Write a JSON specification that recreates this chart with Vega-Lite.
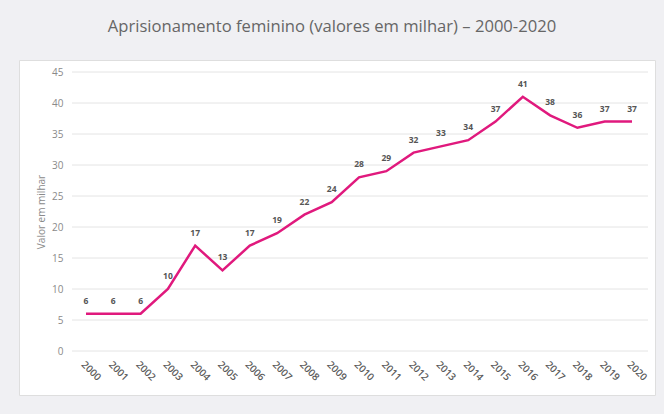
{
  "$schema": "https://vega.github.io/schema/vega-lite/v6.json",
  "width": 636,
  "height": 335,
  "autosize": {"type": "none"},
  "padding": {"left": 19, "top": 60, "right": 9, "bottom": 19},
  "background": "#f0f0f3",
  "config": {
    "font": "Open Sans",
    "view": {"fill": "white", "stroke": "#dedede", "strokeWidth": 1}
  },
  "title": {
    "text": "Aprisionamento feminino (valores em milhar) – 2000-2020",
    "anchor": "middle",
    "fontSize": 16.6,
    "fontWeight": "normal",
    "color": "#666666",
    "offset": 24,
    "dx": -5
  },
  "resolve": {"scale": {"x": "independent"}, "axis": {"x": "independent"}},
  "layer": [
    {
      "data": {"values": [{"g": 0}, {"g": 5}, {"g": 10}, {"g": 15}, {"g": 20}, {"g": 25}, {"g": 30}, {"g": 35}, {"g": 40}, {"g": 45}]},
      "mark": {"type": "rule", "color": "#e4e4e4", "strokeWidth": 1},
      "encoding": {
        "y": {
          "field": "g", "type": "quantitative",
          "scale": {"domain": [0, 45], "range": [291, 12], "nice": false, "zero": true},
          "axis": {
            "title": "Valor em milhar", "titleFontSize": 10, "titleFontWeight": "normal",
            "titleColor": "#8a8a8a", "titlePadding": 5,
            "offset": -53, "domain": false, "ticks": false, "grid": false,
            "values": [0, 5, 10, 15, 20, 25, 30, 35, 40, 45], "labelOverlap": false,
            "labelPadding": 9, "labelFontSize": 10, "labelColor": "#8a8a8a"
          }
        },
        "x": {"datum": 0, "type": "quantitative", "scale": {"domain": [0, 1], "range": [53, 629]}, "axis": null},
        "x2": {"datum": 1}
      }
    },
    {
      "data": {"values": [
        {"ano": "2000", "v": 6}, {"ano": "2001", "v": 6}, {"ano": "2002", "v": 6},
        {"ano": "2003", "v": 10}, {"ano": "2004", "v": 17}, {"ano": "2005", "v": 13},
        {"ano": "2006", "v": 17}, {"ano": "2007", "v": 19}, {"ano": "2008", "v": 22},
        {"ano": "2009", "v": 24}, {"ano": "2010", "v": 28}, {"ano": "2011", "v": 29},
        {"ano": "2012", "v": 32}, {"ano": "2013", "v": 33}, {"ano": "2014", "v": 34},
        {"ano": "2015", "v": 37}, {"ano": "2016", "v": 41}, {"ano": "2017", "v": 38},
        {"ano": "2018", "v": 36}, {"ano": "2019", "v": 37}, {"ano": "2020", "v": 37}
      ]},
      "encoding": {
        "x": {
          "field": "ano", "type": "ordinal",
          "scale": {"type": "point", "range": [67, 613], "padding": 0},
          "axis": {
            "title": null, "orient": "bottom", "offset": -44,
            "domain": false, "ticks": false, "grid": false,
            "labelAngle": 45, "labelPadding": 8, "labelOverlap": false,
            "labelFontSize": 10, "labelFontWeight": 600, "labelColor": "#5a5a5a"
          }
        },
        "y": {
          "field": "v", "type": "quantitative",
          "scale": {"domain": [0, 45], "range": [291, 12], "nice": false, "zero": true},
          "axis": {
            "title": "Valor em milhar", "titleFontSize": 10, "titleFontWeight": "normal",
            "titleColor": "#8a8a8a", "titlePadding": 5,
            "offset": -53, "domain": false, "ticks": false, "grid": false,
            "values": [0, 5, 10, 15, 20, 25, 30, 35, 40, 45], "labelOverlap": false,
            "labelPadding": 9, "labelFontSize": 10, "labelColor": "#8a8a8a"
          }
        }
      },
      "layer": [
        {"mark": {"type": "line", "color": "#e0197d", "strokeWidth": 2.5}},
        {
          "mark": {"type": "text", "dy": -13, "fontSize": 8.5, "fontWeight": "bold", "color": "#555555"},
          "encoding": {"text": {"field": "v", "type": "quantitative"}}
        }
      ]
    }
  ]
}
